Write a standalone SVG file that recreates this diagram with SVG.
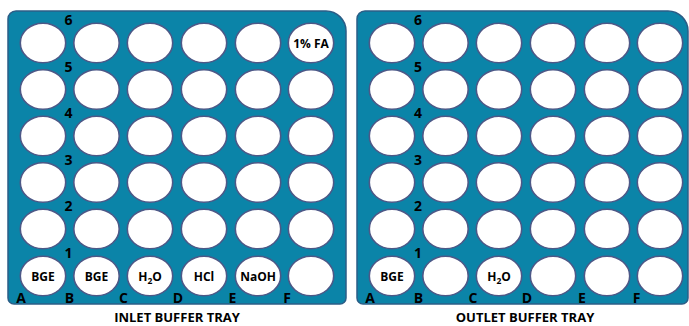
<svg xmlns="http://www.w3.org/2000/svg" width="689" height="326" viewBox="0 0 689 326">
<defs>
<style>
.tray{fill:#0b84a8;stroke:#2c5d86;stroke-width:1.5}
.well{fill:#ffffff;stroke:#4d5887;stroke-width:1.6}
.num{font-family:"Open Sans","Liberation Sans",sans-serif;font-weight:bold;font-size:14px;fill:#000;text-anchor:middle}
.lbl{font-family:"Open Sans","Liberation Sans",sans-serif;font-weight:bold;font-size:12px;fill:#000;text-anchor:middle}
.title{font-family:"Open Sans","Liberation Sans",sans-serif;font-weight:bold;font-size:13px;fill:#000;text-anchor:middle}
</style>
<g id="wellrow">
<ellipse class="well" cx="43" cy="0" rx="22.7" ry="19.8"/>
<ellipse class="well" cx="96.5" cy="0" rx="22.7" ry="19.8"/>
<ellipse class="well" cx="150" cy="0" rx="22.7" ry="19.8"/>
<ellipse class="well" cx="204" cy="0" rx="22.7" ry="19.8"/>
<ellipse class="well" cx="258" cy="0" rx="22.7" ry="19.8"/>
<ellipse class="well" cx="311" cy="0" rx="22.7" ry="19.8"/>
</g>
</defs>

<g id="inlet-tray">
<path class="tray" d="M16,11 H326 A20,20 0 0 1 346,31 V298 A6,6 0 0 1 340,304 H14 A6,6 0 0 1 8,298 V19 A8,8 0 0 1 16,11 Z"/>
<use href="#wellrow" y="43"/>
<use href="#wellrow" y="89.5"/>
<use href="#wellrow" y="136"/>
<use href="#wellrow" y="182.5"/>
<use href="#wellrow" y="229"/>
<use href="#wellrow" y="276"/>
<text class="num" x="68.5" y="25">6</text>
<text class="num" x="68.5" y="71.5">5</text>
<text class="num" x="68.5" y="118">4</text>
<text class="num" x="68.5" y="164.5">3</text>
<text class="num" x="68.5" y="211">2</text>
<text class="num" x="68.5" y="257.5">1</text>
<text class="num" x="21" y="303">A</text>
<text class="num" x="69.5" y="303">B</text>
<text class="num" x="123.5" y="303">C</text>
<text class="num" x="178" y="303">D</text>
<text class="num" x="232.5" y="303">E</text>
<text class="num" x="287" y="303">F</text>
<text class="lbl" x="311" y="47.5">1% FA</text>
<text class="lbl" x="43" y="280.5">BGE</text>
<text class="lbl" x="96.5" y="280.5">BGE</text>
<text class="lbl" x="150" y="280.5">H<tspan font-size="8.5" dy="3">2</tspan><tspan dy="-3">O</tspan></text>
<text class="lbl" x="204" y="280.5">HCl</text>
<text class="lbl" x="258" y="280.5">NaOH</text>
<text class="title" x="177" y="321.5">INLET BUFFER TRAY</text>
</g>

<g id="outlet-tray">
<path class="tray" d="M365,11 H668 A20,20 0 0 1 688,31 V298 A6,6 0 0 1 682,304 H363 A6,6 0 0 1 357,298 V19 A8,8 0 0 1 365,11 Z"/>
<use href="#wellrow" x="349" y="43"/>
<use href="#wellrow" x="349" y="89.5"/>
<use href="#wellrow" x="349" y="136"/>
<use href="#wellrow" x="349" y="182.5"/>
<use href="#wellrow" x="349" y="229"/>
<use href="#wellrow" x="349" y="276"/>
<text class="num" x="418" y="25">6</text>
<text class="num" x="418" y="71.5">5</text>
<text class="num" x="418" y="118">4</text>
<text class="num" x="418" y="164.5">3</text>
<text class="num" x="418" y="211">2</text>
<text class="num" x="418" y="257.5">1</text>
<text class="num" x="370" y="303">A</text>
<text class="num" x="418.5" y="303">B</text>
<text class="num" x="473" y="303">C</text>
<text class="num" x="527" y="303">D</text>
<text class="num" x="582" y="303">E</text>
<text class="num" x="636.5" y="303">F</text>
<text class="lbl" x="392" y="280.5">BGE</text>
<text class="lbl" x="499" y="280.5">H<tspan font-size="8.5" dy="3">2</tspan><tspan dy="-3">O</tspan></text>
<text class="title" x="525" y="321.5">OUTLET BUFFER TRAY</text>
</g>
</svg>
